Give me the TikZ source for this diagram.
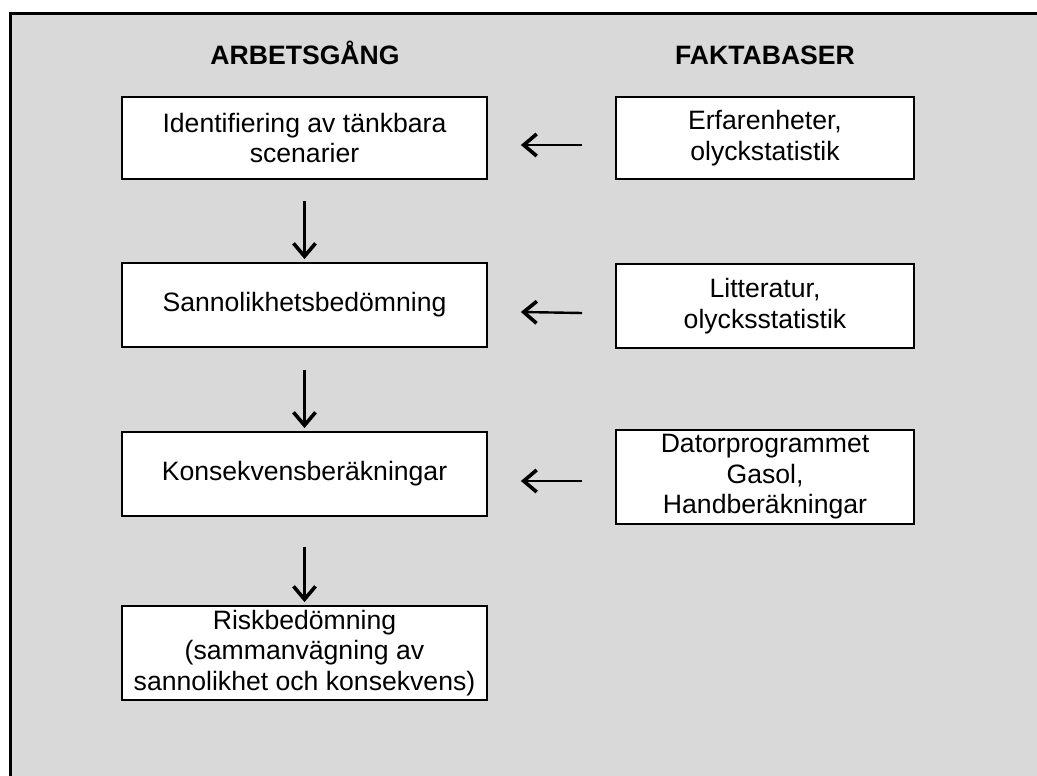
\documentclass[tikz,border=0pt]{standalone}
\usepackage{fontspec}
\setmainfont{Liberation Sans}
\usetikzlibrary{arrows.meta}
\definecolor{bggray}{RGB}{217,217,217}
\tikzset{
  box/.style={draw=black, line width=1.8pt, fill=white, inner sep=0pt, align=center,
    font=\fontsize{26.6}{30.5}\selectfont},
  lbox/.style={box, minimum width=365pt},
  rbox/.style={box, minimum width=298pt},
  head/.style={font=\fontsize{26.6}{30.5}\selectfont\bfseries, inner sep=0pt, anchor=base},
  arr/.style={line width=2.4pt, line cap=butt, -{Straight Barb[length=13pt,width=22pt,line width=3.6pt]}}
}
\begin{document}
\begin{tikzpicture}[x=1pt,y=-1pt]
\useasboundingbox (0,0) rectangle (1037,776);
\fill[bggray] (10.5,13.5) rectangle (1037,776);
\draw[line width=2.5pt] (10.5,776) -- (10.5,13.5) -- (1037,13.5);

\node[head] (h1) at (305,64.5) {ARBETSGÅNG};
\node[head] (h2) at (765,64.5) {FAKTABASER};

\node[lbox, minimum height=82pt] (l1) at (304.5,138) {Identifiering av tänkbara\\scenarier};
\node[lbox, minimum height=84pt] (l2) at (304.5,305) {Sannolikhetsbedömning};
\node[lbox, minimum height=84pt] (l3) at (304.5,474) {Konsekvensberäkningar};
\node[lbox, minimum height=94pt] (l4) at (304.5,653) {Riskbedömning\\(sammanvägning av\\sannolikhet och konsekvens)};

\node[rbox, minimum height=82pt] (r1) at (765,138) {Erfarenheter,\\olyckstatistik};
\node[rbox, minimum height=84pt] (r2) at (765,306) {Litteratur,\\olycksstatistik};
\node[rbox, minimum height=94pt] (r3) at (765,477) {Datorprogrammet\\Gasol,\\Handberäkningar};

\draw[arr] ([yshift=-21pt]l1.south) -- ([yshift=3pt]l2.north);
\draw[arr] ([yshift=-22pt]l2.south) -- ([yshift=3pt]l3.north);
\draw[arr] ([yshift=-30pt]l3.south) -- ([yshift=3pt]l4.north);

\draw[arr] ([xshift=-33pt,yshift=-7pt]r1.west) -- ([xshift=33pt,yshift=-7pt]l1.east);
\draw[arr] ([xshift=-33pt,yshift=-7pt]r2.west) -- ([xshift=33pt,yshift=-7pt]l2.east);
\draw[arr] ([xshift=-33pt,yshift=-4pt]r3.west) -- ([xshift=33pt,yshift=-7pt]l3.east);
\end{tikzpicture}
\end{document}
